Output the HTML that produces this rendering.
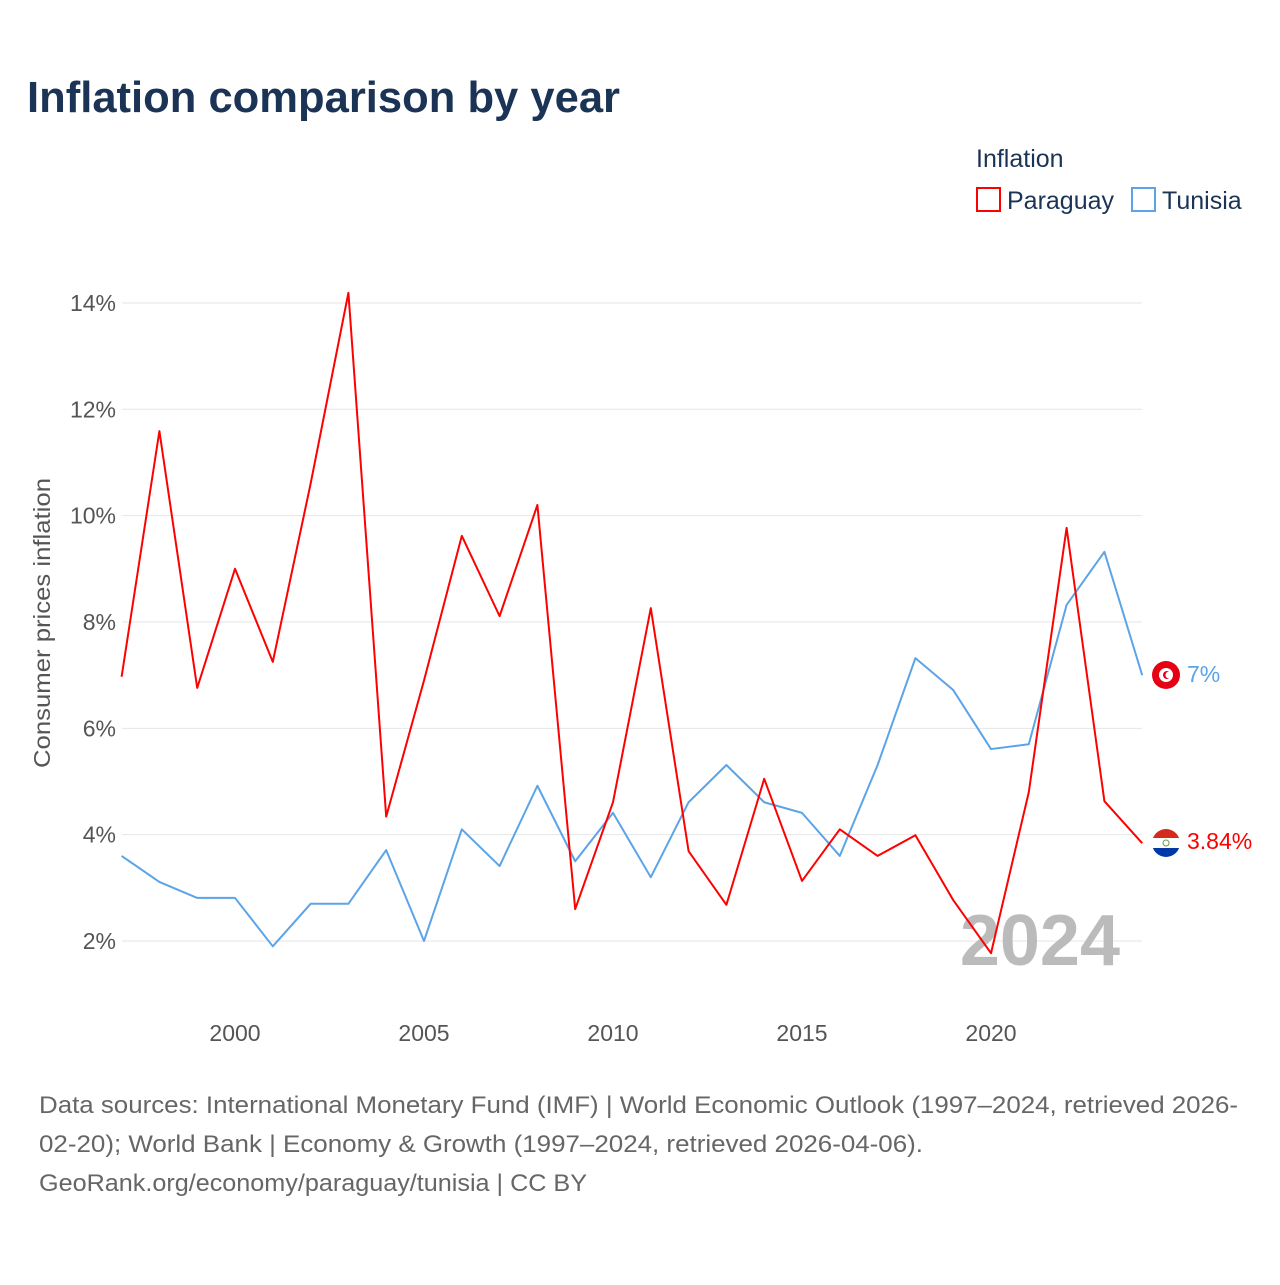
<!DOCTYPE html>
<html><head><meta charset="utf-8"><style>
body{margin:0;background:#fff;font-family:"Liberation Sans",sans-serif;}
</style></head><body>
<svg width="1280" height="1280" xmlns="http://www.w3.org/2000/svg">
<text x="27" y="112" font-size="44" font-weight="bold" fill="#1b3456" textLength="593" lengthAdjust="spacingAndGlyphs">Inflation comparison by year</text>
<text x="976" y="167" font-size="25" fill="#1b3456">Inflation</text>
<g><rect x="977" y="188" width="23" height="23" fill="none" stroke="#ff0000" stroke-width="2"/><text x="1007" y="209" font-size="25" fill="#1b3456">Paraguay</text></g>
<g><rect x="1132" y="188" width="23" height="23" fill="none" stroke="#5ba4e8" stroke-width="2"/><text x="1162" y="209" font-size="25" fill="#1b3456">Tunisia</text></g>
<g id="grid"></g><g id="xt"></g>
<text transform="translate(50,623) rotate(-90)" text-anchor="middle" font-size="23" fill="#555" textLength="290" lengthAdjust="spacingAndGlyphs">Consumer prices inflation</text>
<text x="1120" y="965" text-anchor="end" font-size="72" font-weight="bold" fill="#bbb">2024</text>
<g id="lines"></g>
<g><circle cx="1166" cy="675" r="14" fill="#e70013"/><circle cx="1166" cy="675" r="7" fill="#fff"/><circle cx="1167" cy="675" r="4" fill="#e70013"/><circle cx="1169" cy="675" r="3.5" fill="#fff"/></g>
<g><clipPath id="pc"><circle cx="1166" cy="843" r="14"/></clipPath><g clip-path="url(#pc)"><rect x="1150" y="828" width="32" height="10" fill="#d52b1e"/><rect x="1150" y="838" width="32" height="10" fill="#fff"/><rect x="1150" y="848" width="32" height="11" fill="#0038a8"/></g><circle cx="1166" cy="843" r="3" fill="none" stroke="#6a9a3a" stroke-width="1"/></g>
<text x="1187" y="682" font-size="23" fill="#5ba4e8">7%</text>
<text x="1187" y="849" font-size="23" fill="#ff0000">3.84%</text>
<text font-size="24" fill="#666"><tspan x="39" y="1113" textLength="1199" lengthAdjust="spacingAndGlyphs">Data sources: International Monetary Fund (IMF) | World Economic Outlook (1997–2024, retrieved 2026-</tspan><tspan x="39" y="1152" textLength="884" lengthAdjust="spacingAndGlyphs">02-20); World Bank | Economy &amp; Growth (1997–2024, retrieved 2026-04-06).</tspan><tspan x="39" y="1191" textLength="548" lengthAdjust="spacingAndGlyphs">GeoRank.org/economy/paraguay/tunisia | CC BY</tspan></text>
</svg>
<script>
const years=[1997,1998,1999,2000,2001,2002,2003,2004,2005,2006,2007,2008,2009,2010,2011,2012,2013,2014,2015,2016,2017,2018,2019,2020,2021,2022,2023,2024];
const paraguay=[6.97,11.59,6.76,9.0,7.25,10.6,14.19,4.34,6.9,9.62,8.11,10.2,2.6,4.61,8.26,3.69,2.68,5.05,3.13,4.1,3.6,3.99,2.77,1.77,4.8,9.77,4.63,3.84];
const tunisia=[3.6,3.11,2.81,2.81,1.9,2.7,2.7,3.71,2.0,4.1,3.41,4.92,3.5,4.41,3.2,4.61,5.31,4.61,4.41,3.6,5.31,7.32,6.72,5.61,5.7,8.32,9.32,7.0];
const yTicks=[2,4,6,8,10,12,14];
const xTicks=[2000,2005,2010,2015,2020];
const NS='http://www.w3.org/2000/svg';
const X=y=>121.6+(y-1997)*37.8;
const Y=v=>941-(v-2)*53.17;
const g=document.getElementById('grid');
yTicks.forEach(t=>{
const l=document.createElementNS(NS,'line');


l.setAttribute('x1',122);l.setAttribute('x2',1142);l.setAttribute('y1',Y(t));l.setAttribute('y2',Y(t));l.setAttribute('stroke','#e6e6e6');
g.appendChild(l);
const tx=document.createElementNS(NS,'text');


tx.setAttribute('x',116);tx.setAttribute('y',Y(t)+8);tx.setAttribute('text-anchor','end');tx.setAttribute('font-size','23');tx.setAttribute('fill','#555');
tx.textContent=t+'%';g.appendChild(tx);
});
const xt=document.getElementById('xt');
xTicks.forEach(t=>{
const tx=document.createElementNS(NS,'text');


tx.setAttribute('x',X(t));tx.setAttribute('y',1041);tx.setAttribute('text-anchor','middle');tx.setAttribute('font-size','23');tx.setAttribute('fill','#555');
tx.textContent=t;xt.appendChild(tx);
});
const lg=document.getElementById('lines');
function line(vals,color,name){
const p=document.createElementNS(NS,'polyline');


p.setAttribute('points',vals.map((v,i)=>X(years[i])+','+Y(v)).join(' '));
p.setAttribute('fill','none');p.setAttribute('stroke',color);p.setAttribute('stroke-width','2');p.setAttribute('stroke-linejoin','round');
lg.appendChild(p);
}
line(tunisia,'#5ba4e8','tunisia-line');
line(paraguay,'#ff0000','paraguay-line');
</script>
</body></html>
